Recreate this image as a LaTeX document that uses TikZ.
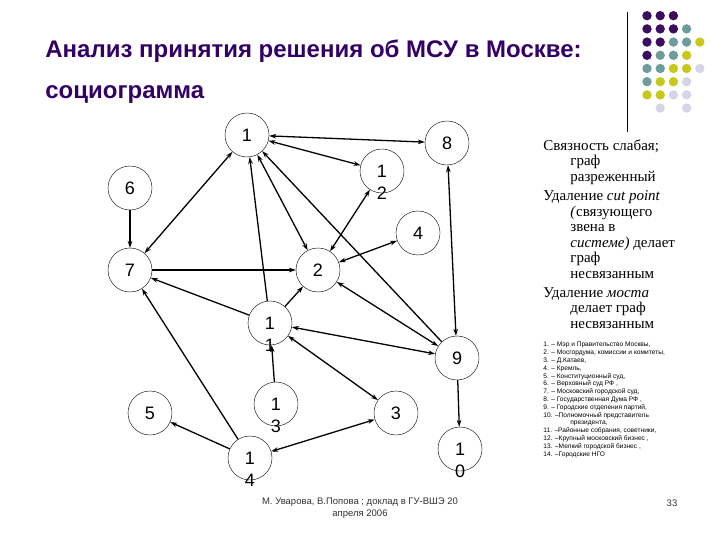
\documentclass[tikz,border=0pt]{standalone}
\usepackage{fontspec}
\setmainfont{Liberation Serif}
\newfontfamily\arialfont{Liberation Sans}
\usepackage{xcolor}
\usetikzlibrary{arrows.meta}
\definecolor{titlepurple}{HTML}{330066}
\definecolor{dotpurple}{HTML}{3B0D60}
\definecolor{dotteal}{HTML}{6E9C9C}
\definecolor{dotyellow}{HTML}{C8C81A}
\definecolor{dotlilac}{HTML}{D5D5EA}

\begin{document}
\begin{tikzpicture}[x=1pt,y=-1pt,>={Stealth[length=7pt,width=4.6pt]},thick,main node/.style={circle,draw,thin,minimum size=44pt,inner sep=0pt,font=\arialfont\fontsize{18}{18}\selectfont},low digit/.style={yshift=-22pt,inner sep=0pt,font=\arialfont\fontsize{18}{18}\selectfont}]
            \useasboundingbox (0,0) rectangle (720,540);

            % title
            \node[anchor=base west,inner sep=0pt,text=titlepurple,font=\arialfont\bfseries\fontsize{24}{24}\selectfont] (title) at (45,58) {Анализ принятия решения об МСУ в Москве:};
            \node[anchor=base west,inner sep=0pt,text=titlepurple,font=\arialfont\bfseries\fontsize{24}{24}\selectfont] (subtitle) at (45,99) {социограмма};

            % corner decoration
            \draw[thin] (627,12) -- (627,132);
            \foreach \r/\k in {0/0,0/1,0/2,1/0,1/1,1/2,2/0,2/1,3/0}
                \fill[dotpurple] (647+13.2*\k,15.7+13.2*\r) circle (4.7);
            \foreach \r/\k in {1/3,2/2,2/3,3/1,3/2,4/0,4/1,5/0}
                \fill[dotteal] (647+13.2*\k,15.7+13.2*\r) circle (4.7);
            \foreach \r/\k in {2/4,3/3,4/2,4/3,5/1,5/2,6/0,6/1}
                \fill[dotyellow] (647+13.2*\k,15.7+13.2*\r) circle (4.7);
            \foreach \r/\k in {4/4,5/3,6/2,6/3,7/1,7/3}
                \fill[dotlilac] (647+13.2*\k,15.7+13.2*\r) circle (4.7);

            % sociogram
            \node[main node] (1) at (247,135) {1};
            \node[main node] (8) at (447,143) {8};
            \node[main node] (12) at (382,171) {1};
            \node[main node] (6) at (130,188) {6};
            \node[main node] (4) at (418,233) {4};
            \node[main node] (7) at (130,270) {7};
            \node[main node] (2) at (318,270) {2};
            \node[main node] (11) at (270,323) {1};
            \node[main node] (9) at (457,358) {9};
            \node[main node] (13) at (276,404) {1};
            \node[main node] (5) at (150,413) {5};
            \node[main node] (3) at (396,413) {3};
            \node[main node] (14) at (250,458) {1};
            \node[main node] (10) at (460,449) {1};
            \node[low digit] (12b) at (12) {2};
            \node[low digit] (11b) at (11) {1};
            \node[low digit] (13b) at (13) {3};
            \node[low digit] (14b) at (14) {4};
            \node[low digit] (10b) at (10) {0};

            \path[line width=1.3pt]
                (1) edge[<->] (8)
                (1) edge[<->] (12)
                (1) edge[<->] (7)
                (1) edge[<->] (2)
                (11) edge[->] (1)
                (9) edge[->] (1)
                (6) edge[->] (7)
                (7) edge[->] (2)
                (12) edge[<->] (2)
                (4) edge[<->] (2)
                (9) edge[<->] (2)
                (11) edge[->] (7)
                (11) edge[->] (2)
                (14) edge[->] (7)
                (8) edge[<->] (9)
                (11) edge[<->] (9)
                (11) edge[<->] (3)
                (13) edge[->] (11)
                (14) edge[->] (5)
                (14) edge[<->] (3)
                (9) edge[->] (10)
                ;

            % comments on the right
            \node[anchor=north west,inner sep=0pt,align=left,font=\fontsize{15}{15.5}\selectfont] (notes) at (543,139) {Связность слабая;\\
                \hspace*{27pt}граф\\
                \hspace*{27pt}разреженный\\[4pt]
                Удаление \textit{cut point}\\
                \hspace*{27pt}\textit{(}связующего\\
                \hspace*{27pt}звена в\\
                \hspace*{27pt}\textit{системе)} делает\\
                \hspace*{27pt}граф\\
                \hspace*{27pt}несвязанным\\[3.5pt]
                Удаление \textit{моста}\\
                \hspace*{27pt}делает граф\\
                \hspace*{27pt}несвязанным};

            \node[anchor=north west,inner sep=0pt,align=left,font=\arialfont\fontsize{6.6}{7.8}\selectfont] (legend) at (543,342) {1. – Мэр и Правительство Москвы,\\
                2. – Мосгордума, комиссии и комитеты,\\
                3. – Д.Катаев,\\
                4. – Кремль,\\
                5. – Конституционный суд,\\
                6. – Верховный суд РФ ,\\
                7. – Московский городской суд,\\
                8. – Государственная Дума РФ ,\\
                9. – Городские отделения партий,\\
                10. –Полномочный представитель\\
                \hspace*{27pt}президента,\\
                11. –Районные собрания, советники,\\
                12. –Крупный московский бизнес ,\\
                13. –Мелкий городской бизнес ,\\
                14. –Городские НГО};

            % footer
            \node[align=center,inner sep=0pt,text=black!80,font=\arialfont\fontsize{9.5}{11.5}\selectfont] (footer) at (360,508) {М. Уварова, В.Попова ; доклад в ГУ-ВШЭ 20\\апреля 2006};
            \node[inner sep=0pt,text=black!80,font=\arialfont\fontsize{9.5}{9.5}\selectfont] (page) at (672,503) {33};
        \end{tikzpicture}
\end{document}
